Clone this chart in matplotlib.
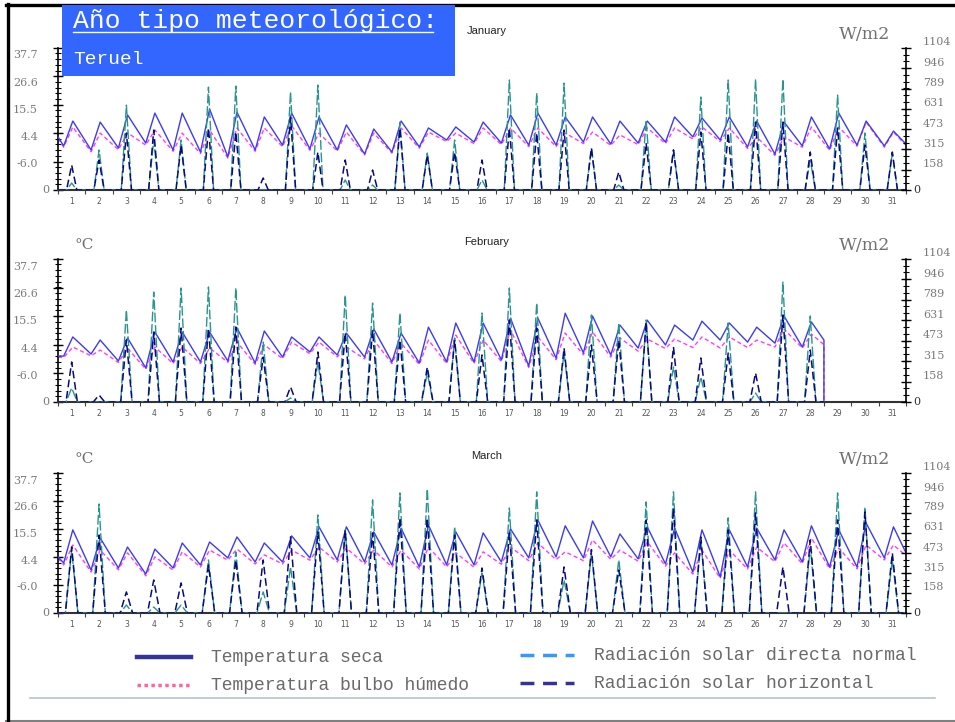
import matplotlib
matplotlib.use("Agg")
import matplotlib.pyplot as plt
from matplotlib.lines import Line2D
from matplotlib.patches import Rectangle
from matplotlib.ticker import AutoMinorLocator

W, H = 955, 722

DAYS = list(range(1, 32))
TEMP_TICKS = [-17.7, -6.6, 4.4, 15.5, 26.6, 37.7]
TEMP_LABELS = ["0", "-6.0", "4.4", "15.5", "26.6", "37.7"]
RAD_TICKS = [0, 158, 315, 473, 631, 789, 946, 1104]

# January
JAN_TMIN = [-0.5, -2.1, -1.3, 0.6, -2.1, -2.9, -4.8, -2.1, -0.2, -1.7, -2.1, -3.7, -2.9, -0.9, 1.8, 1.0,
            0.6, -0.2, -0.2, 1.0, 0.2, 0.6, 1.0, 3.0, 1.8, -0.9, -3.7, -0.5, -1.7, -0.2, -0.5]
JAN_TMAX = [9.2, 8.8, 11.6, 12.3, 12.3, 13.9, 12.7, 10.8, 12.3, 10.8, 7.7, 6.1, 9.2, 6.5, 6.9, 8.8,
            11.6, 12.3, 10.8, 10.8, 9.2, 9.2, 10.8, 10.4, 10.8, 9.2, 8.8, 10.8, 12.3, 9.2, 5.3]
JAN_WBMIN = [-1.0, -2.8, -2.0, -0.2, -2.6, -3.5, -5.2, -2.6, -0.8, -2.2, -2.5, -4.0, -3.3, -1.4, 1.2, 0.4,
             0.0, -0.8, -0.8, 0.4, -0.3, 0.0, 0.4, 2.2, 1.2, -1.5, -4.2, -1.0, -2.2, -0.6, -1.0]
JAN_WBMAX = [6.9, 4.5, 4.6, 5.7, 4.5, 5.7, 6.5, 6.5, 7.3, 4.5, 4.9, 4.5, 6.5, 4.9, 4.5, 6.5,
             6.5, 6.5, 4.5, 4.9, 3.8, 6.5, 6.5, 6.9, 6.5, 3.0, 3.0, 6.9, 6.9, 8.8, 4.9]
JAN_EDGES = [3.0, 0.2]
JAN_WB_EDGES = [2.5, -0.3]
JAN_DNI = [54, 311, 660, 389, 389, 800, 808, 0, 762, 816, 78, 39, 528, 287, 389, 78,
           855, 754, 831, 326, 39, 544, 311, 723, 855, 862, 862, 233, 738, 443, 287]
JAN_GHI = [194, 233, 443, 466, 350, 482, 451, 93, 567, 295, 233, 155, 482, 272, 295, 233,
           482, 443, 466, 326, 140, 365, 311, 451, 443, 528, 528, 295, 482, 350, 295]

# February
FEB_TMIN = [0.1, 0.9, -1.8, -4.5, -2.2, -2.2, -1.8, -2.6, -0.3, 1.7, 0.5, -0.3, -2.2, -2.6,
            -2.2, -2.2, -1.4, -3.8, -0.7, 1.3, 0.5, 3.2, 4.4, 6.3, 6.3, 5.5, 5.1, 3.6]
FEB_TMAX = [7.5, 6.3, 7.1, 9.4, 9.4, 9.4, 11.0, 9.8, 7.5, 7.5, 9.0, 10.6, 9.0, 11.3,
            12.9, 12.9, 14.8, 14.8, 16.7, 15.6, 12.1, 14.0, 12.1, 13.6, 12.9, 11.3, 15.6, 13.3]
FEB_WBMIN = [-0.5, 0.2, -2.4, -5.0, -2.8, -2.8, -2.3, -3.1, -0.9, 1.0, -0.2, -1.0, -2.8, -3.2,
             -2.8, -2.8, -2.0, -4.3, -1.3, 0.6, -0.3, 2.0, 3.0, 3.4, 3.2, 3.4, 3.6, 3.2]
FEB_WBMAX = [3.6, 2.4, 3.2, 3.6, 3.6, 3.2, 5.5, 4.4, 5.5, 5.5, 3.6, 6.3, 5.1, 6.3,
             8.2, 6.3, 10.2, 7.5, 9.0, 9.4, 7.1, 6.7, 6.7, 7.5, 7.5, 6.3, 10.6, 8.6]
FEB_EDGES = [0.1, 6.3, -17.7]
FEB_WB_EDGES = [-0.3, 4.5, -17.7]
FEB_DNI = [108, 0, 710, 849, 880, 888, 880, 463, 31, 309, 826, 764, 687, 224,
           494, 687, 880, 764, 378, 672, 610, 633, 270, 193, 610, 69, 926, 664]
FEB_GHI = [309, 54, 479, 540, 571, 571, 579, 347, 116, 386, 533, 556, 479, 270,
           479, 363, 633, 571, 417, 440, 479, 618, 425, 340, 378, 224, 672, 401]

# March
MAR_TMIN = [2.1, -0.7, 0.1, -2.3, 0.1, 1.3, 4.1, 2.5, 2.5, 4.1, 3.3, 2.5, 1.3, 0.5, 1.3, 1.3,
            2.5, 4.1, 4.5, 4.1, 4.5, 3.7, 1.7, -1.5, -3.4, 0.5, 3.3, 2.5, 0.5, 0.5, 4.1]
MAR_TMAX = [15.2, 12.0, 8.4, 7.6, 10.0, 10.4, 12.4, 10.0, 12.8, 16.4, 16.4, 14.4, 15.9, 17.1, 14.4, 14.0,
            15.6, 19.1, 16.8, 18.7, 13.6, 16.4, 15.9, 15.2, 15.2, 15.9, 15.2, 16.8, 15.2, 17.9, 16.4]
MAR_WBMIN = [1.3, -1.5, -0.6, -3.0, -0.7, 0.5, 3.2, 1.7, 1.7, 3.2, 2.5, 1.7, 0.5, -0.3, 0.5, 0.4,
             1.6, 3.0, 3.4, 3.0, 3.5, 2.8, 0.8, -2.3, -4.0, -0.3, 2.6, 1.8, -0.2, -0.2, 3.3]
MAR_WBMAX = [9.2, 7.2, 6.1, 4.5, 6.5, 7.2, 7.6, 5.3, 7.2, 8.4, 8.0, 7.2, 7.2, 8.4, 6.1, 6.5,
             8.4, 10.0, 6.5, 11.2, 7.2, 10.4, 6.1, 7.2, 7.2, 8.4, 10.0, 12.0, 8.0, 9.2, 9.2]
MAR_EDGES = [4.5, 6.1]
MAR_WB_EDGES = [4.0, 5.0]
MAR_DNI = [497, 860, 63, 47, 63, 418, 481, 166, 363, 773, 655, 892, 947, 978, 680, 315,
           828, 955, 260, 473, 418, 876, 955, 576, 750, 955, 0, 521, 947, 836, 418]
MAR_GHI = [521, 615, 166, 260, 237, 378, 418, 418, 600, 639, 655, 631, 750, 750, 615, 355,
           631, 734, 363, 500, 339, 734, 828, 600, 655, 789, 363, 576, 734, 797, 473]

C_SECA = "#3c3cf0"
C_WB = "#ff3cff"
C_DNI = "#2a958f"
C_GHI = "#0a0a80"
GREY = "#7a7a7a"


def px(x, y):
    return x / W, 1 - y / H


def temp_curve(tmin, tmax, edges):
    # daily minimum around dawn, maximum early afternoon
    hours, vals = [0], [edges[0]]
    for d, (lo, hi) in enumerate(zip(tmin, tmax)):
        hours += [24 * d + 5, 24 * d + 13]
        vals += [lo, hi]
    for v in edges[1:]:
        hours.append(24 * len(tmin))
        vals.append(v)
    return hours, vals


def rad_curve(peaks, rise, sset):
    hours, vals = [0], [0]
    for d, p in enumerate(peaks):
        hours += [24 * d + rise, 24 * d + 12, 24 * d + sset]
        vals += [0, p, 0]
    hours.append(24 * len(peaks))
    vals.append(0)
    return hours, vals


def draw_month(box, name, tmin, tmax, wbmin, wbmax, edges, wb_edges, dni, ghi, sun, show_unit=True):
    left, top, right, bottom = box
    ax = fig.add_axes([left / W, 1 - bottom / H, (right - left) / W, (bottom - top) / H])
    ax2 = ax.twinx()

    ax.plot(*temp_curve(tmin, tmax, edges), color=C_SECA, lw=1.0, zorder=3)
    ax.plot(*temp_curve(wbmin, wbmax, wb_edges), color=C_WB, lw=1.0, dashes=(3, 2), zorder=2)
    ax2.plot(*rad_curve(dni, *sun), color=C_DNI, lw=1.0, dashes=(7, 2))
    ax2.plot(*rad_curve(ghi, *sun), color=C_GHI, lw=1.1, dashes=(5, 2.5))

    ax.set_xlim(0, 744)
    ax.set_ylim(-17.7, 37.7)
    ax2.set_ylim(0, 1104)

    for s in ["top", "right"]:
        ax.spines[s].set_visible(False)
    for s in ["top", "left", "bottom"]:
        ax2.spines[s].set_visible(False)
    ax.spines["left"].set_linewidth(1.2)
    ax.spines["bottom"].set_linewidth(1.5)
    ax.spines["bottom"].set_color("#333333")
    ax2.spines["right"].set_linewidth(1.2)

    ax.set_xticks(range(0, 745, 24), labels=[])
    ax.set_xticks([24 * (d - 1) + 12 for d in DAYS], labels=[str(d) for d in DAYS], minor=True)
    ax.tick_params(axis="x", which="major", length=3, width=0.8, color="#444444")
    ax.tick_params(axis="x", which="minor", length=0, labelsize=5.5, labelcolor="#555555", pad=5)

    ax.set_yticks(TEMP_TICKS, labels=[])
    ax.yaxis.set_minor_locator(AutoMinorLocator(5))
    ax.tick_params(axis="y", which="major", direction="inout", length=7, width=1)
    ax.tick_params(axis="y", which="minor", direction="inout", length=4, width=0.8)
    ax2.set_yticks(RAD_TICKS, labels=[])
    ax2.yaxis.set_minor_locator(AutoMinorLocator(3))
    ax2.tick_params(axis="y", which="major", direction="inout", length=7, width=1)
    ax2.tick_params(axis="y", which="minor", direction="inout", length=4, width=0.8)

    for i, (v, lab) in enumerate(zip(TEMP_TICKS, TEMP_LABELS)):
        dx = -9 if lab == "0" else -20
        dy = 0 if i == 0 else -(1 + 1.3 * i)
        ax.annotate(lab, (0, v), xycoords=("axes fraction", "data"), xytext=(dx, dy),
                    textcoords="offset pixels", ha="right", va="center",
                    family="DejaVu Serif", fontsize=8, color=GREY)
    for v in RAD_TICKS:
        dx = 7 if v == 0 else 17
        dy = 0 if v == 0 else 5.5
        ax2.annotate(str(v), (1, v), xycoords=("axes fraction", "data"), xytext=(dx, dy),
                     textcoords="offset pixels", ha="left", va="center",
                     family="DejaVu Serif", fontsize=8, color="#333333" if v == 0 else GREY)

    ax.annotate(name, (0.5, 1), xycoords="axes fraction", xytext=(5, 17),
                textcoords="offset pixels", ha="center", va="center",
                family="Liberation Sans", fontsize=8, color="#222222")
    ax.annotate("W/m2", (1, 1), xycoords="axes fraction", xytext=(-41, 13),
                textcoords="offset pixels", ha="center", va="center",
                family="DejaVu Serif", fontsize=12.5, color="#707070")
    if show_unit:
        ax.annotate("°C", (0, 1), xycoords="axes fraction", xytext=(26, 14),
                    textcoords="offset pixels", ha="center", va="center",
                    family="DejaVu Serif", fontsize=11, color="#707070")


fig = plt.figure(figsize=(W / 100, H / 100), dpi=100)
fig.patch.set_facecolor("white")

# January's °C sits under the title box in the original
draw_month((58, 48, 906, 190), "January", JAN_TMIN, JAN_TMAX, JAN_WBMIN, JAN_WBMAX,
           JAN_EDGES, JAN_WB_EDGES, JAN_DNI, JAN_GHI, (7.5, 16.5), show_unit=False)
draw_month((58, 259, 906, 402), "February", FEB_TMIN, FEB_TMAX, FEB_WBMIN, FEB_WBMAX,
           FEB_EDGES, FEB_WB_EDGES, FEB_DNI, FEB_GHI, (7, 17))
draw_month((58, 473, 906, 613), "March", MAR_TMIN, MAR_TMAX, MAR_WBMIN, MAR_WBMAX,
           MAR_EDGES, MAR_WB_EDGES, MAR_DNI, MAR_GHI, (6.5, 17.5))

# title box
x0, y0 = px(62, 76)
x1, y1 = px(455, 5)
fig.add_artist(Rectangle((x0, y0), x1 - x0, y1 - y0, transform=fig.transFigure,
                         facecolor="#3366ff", edgecolor="none", zorder=5))
fig.text(*px(73, 21), "Año tipo meteorológico:", family="Liberation Mono", fontsize=19,
         color="white", ha="left", va="center", zorder=6)
fig.add_artist(Line2D([73 / W, 433 / W], [1 - 32 / H] * 2, transform=fig.transFigure,
                      color="white", lw=1, zorder=6))
fig.text(*px(73, 59), "Teruel", family="Liberation Mono", fontsize=14,
         color="white", ha="left", va="center", zorder=6)

# legend
legend_items = [
    ((137, 657), "Temperatura seca", dict(color="#333399", lw=3.2)),
    ((137, 685), "Temperatura bulbo húmedo", dict(color="#ff6699", lw=2.5, dashes=(1, 1))),
    ((520, 655), "Radiación solar directa normal", dict(color="#3399ff", lw=2.5, dashes=(4, 2.5))),
    ((520, 683), "Radiación solar horizontal", dict(color="#333399", lw=2.5, dashes=(4, 2.5))),
]
for (lx, ly), label, style in legend_items:
    fig.add_artist(Line2D([lx / W, (lx + 54) / W], [1 - ly / H] * 2,
                          transform=fig.transFigure, **style))
    fig.text(*px(lx + 74, ly), label, family="Liberation Mono", fontsize=13,
             color="#6a6a6a", ha="left", va="center")

# frame lines
fig.add_artist(Line2D([30 / W, 935 / W], [1 - 698 / H] * 2, transform=fig.transFigure,
                      color="#b4c4d0", lw=1.2))
fig.add_artist(Line2D([6 / W, 1], [1 - 720.5 / H] * 2, transform=fig.transFigure,
                      color="#808080", lw=1.5))
fig.add_artist(Line2D([7.5 / W, 7.5 / W], [0, 1 - 4 / H], transform=fig.transFigure,
                      color="black", lw=2.4))
fig.add_artist(Line2D([6 / W, 1], [1 - 5 / H] * 2, transform=fig.transFigure,
                      color="black", lw=2.4))

fig.savefig("out.png", dpi=100)
